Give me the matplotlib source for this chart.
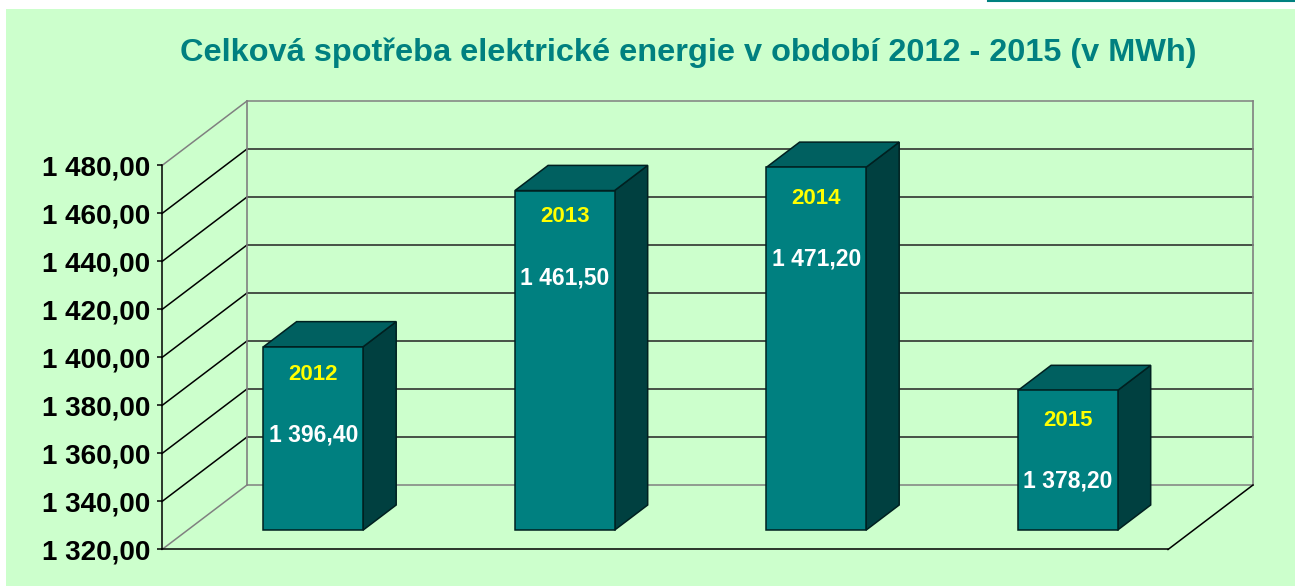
import matplotlib
matplotlib.use('Agg')
import matplotlib.pyplot as plt
from matplotlib.patches import Polygon, Rectangle
from matplotlib.lines import Line2D

years = ['2012', '2013', '2014', '2015']
values = [1396.4, 1461.5, 1471.2, 1378.2]
value_labels = ['1 396,40', '1 461,50', '1 471,20', '1 378,20']
y_ticks = [1320, 1340, 1360, 1380, 1400, 1420, 1440, 1460, 1480]
y_tick_labels = ['1 320,00', '1 340,00', '1 360,00', '1 380,00', '1 400,00',
                 '1 420,00', '1 440,00', '1 460,00', '1 480,00']
title = 'Celková spotřeba elektrické energie v období 2012 - 2015 (v MWh)'

# distance of the manual labels below the bar top, in pixels
year_offset = [28, 26, 31, 30]
value_offset = [88, 87, 92, 91]

W, H = 1295, 586
GREEN = '#CCFFCC'
TEAL = '#008080'
TOP = '#006060'
SIDE = '#004040'
GRAY = '#808080'
FONT = 'Liberation Sans'

# how far the depth axis moves things, per unit of depth
DX = 85 / (1006 / 4)
DY = 64.5 / 2.4
BAR_W = 0.198
D0, D1 = 0.3, 0.69


def pt(x, v, d=0.0):
    return (x + d * DX, v + d * DY)


fig = plt.figure(figsize=(W / 100, H / 100), dpi=100)
fig.patch.set_facecolor('white')
fig.add_artist(Rectangle((6 / W, 0), (W - 6) / W, (H - 9) / H, transform=fig.transFigure,
                         facecolor=GREEN, edgecolor='none', zorder=-1))
fig.add_artist(Line2D([988 / W, 1], [1 - 0.5 / H, 1 - 0.5 / H], transform=fig.transFigure,
                      color=TEAL, lw=1.5, zorder=-1))

ax = fig.add_axes([162 / W, (H - 549.5) / H, 1006 / W, 384 / H])
ax.set_xlim(-0.5, 3.5)
ax.set_ylim(1320, 1480)
ax.patch.set_alpha(0)
for s in ['top', 'right', 'bottom']:
    ax.spines[s].set_visible(False)
ax.spines['left'].set_linewidth(1.1)
ax.spines['left'].set_color('black')
ax.set_xticks([])
ax.set_yticks(y_ticks)
ax.set_yticklabels(y_tick_labels, fontfamily=FONT, fontweight='bold', fontsize=20)
ax.tick_params(axis='y', length=3.5, width=1.1, pad=5)

# walls and gridlines
xl, xr = -0.5, 3.5
for v in y_ticks:
    edge = v in (y_ticks[0], y_ticks[-1])
    col = GRAY if edge else 'black'
    ax.plot(*zip(pt(xl, v), pt(xl, v, 1)), color=col, lw=1.1, clip_on=False, zorder=1)
    ax.plot(*zip(pt(xl, v, 1), pt(xr, v, 1)), color=GRAY if edge else '#222222', lw=1.1,
            clip_on=False, zorder=1)
ax.plot(*zip(pt(xl, y_ticks[0], 1), pt(xl, y_ticks[-1], 1)), color=GRAY, lw=1.2, clip_on=False, zorder=1)
ax.plot(*zip(pt(xr, y_ticks[0], 1), pt(xr, y_ticks[-1], 1)), color=GRAY, lw=1.2, clip_on=False, zorder=1)
ax.plot(*zip(pt(xl, y_ticks[0]), pt(xr, y_ticks[0])), color='black', lw=1.1, clip_on=False, zorder=1)
ax.plot(*zip(pt(xr, y_ticks[0]), pt(xr, y_ticks[0], 1)), color='black', lw=1.1, clip_on=False, zorder=1)

# 3d bars
base = y_ticks[0]
for i, val in enumerate(values):
    x0, x1 = i - BAR_W, i + BAR_W
    front = [pt(x0, base, D0), pt(x1, base, D0), pt(x1, val, D0), pt(x0, val, D0)]
    side = [pt(x1, base, D0), pt(x1, base, D1), pt(x1, val, D1), pt(x1, val, D0)]
    top = [pt(x0, val, D0), pt(x1, val, D0), pt(x1, val, D1), pt(x0, val, D1)]
    for poly, col in ((side, SIDE), (top, TOP), (front, TEAL)):
        ax.add_patch(Polygon(poly, closed=True, facecolor=col, edgecolor='#002020', lw=1.1,
                             clip_on=False, zorder=3))
    cx, cy = pt(i, val, D0)
    ax.annotate(years[i], (cx, cy), xytext=(0, -year_offset[i] * 0.72), textcoords='offset points',
                ha='center', va='center', color='#FFFF00', fontfamily=FONT, fontweight='bold',
                fontsize=16, zorder=4, annotation_clip=False)
    ax.annotate(value_labels[i], (cx, cy), xytext=(0, -value_offset[i] * 0.72), textcoords='offset points',
                ha='center', va='center', color='white', fontfamily=FONT, fontweight='bold',
                fontsize=16.5, zorder=4, annotation_clip=False)

fig.text(688.5 / W, 1 - 53 / H, title, ha='center', va='center', color=TEAL,
         fontfamily=FONT, fontweight='bold', fontsize=23.4)

fig.savefig('out.png', dpi=100)
